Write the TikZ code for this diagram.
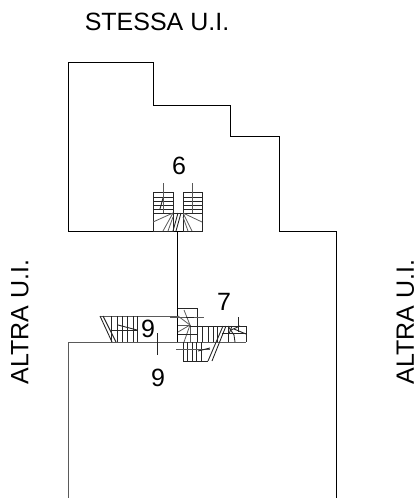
\documentclass[tikz,border=0pt]{standalone}
\usepackage{fontspec}
\setmainfont{Liberation Sans}
\definecolor{wallgrey}{RGB}{90, 90, 90}
\tikzset{
  label/.style={inner sep=0pt,font=\fontsize{25}{25}\selectfont},
  wall/.style={line width=0.9pt,black},
  wallsoft/.style={line width=0.9pt,wallgrey},
  tread/.style={line width=0.9pt,black!85},
  winder/.style={line width=0.8pt,black!65}
}
\begin{document}
\begin{tikzpicture}[x=1pt,y=-1pt]
            \useasboundingbox (0,0) rectangle (419,498);
            % upper and lower outline
            \draw[wall] (68,231) -- (68,62) -- (153,62) -- (153,105) -- (230,105) -- (230,136) -- (279,136) -- (279,231) -- (336,231) -- (336,498);
            \draw[wall] (68,231) -- (202,231);
            \draw[wall] (177.5,231) -- (177.5,342);
            \draw[wallsoft] (68,498) -- (68,342) -- (246,342);
            \draw[wallsoft] (100,316) -- (178,316);

            % stair 6
            \draw[tread] (153,192) rectangle (173,231);
            \draw[tread] (183,192) rectangle (202,231);
            \foreach \ya in {197,201,205,209,213}{
                \draw[tread] (153,\ya) -- (173,\ya);
                \draw[tread] (183,\ya) -- (202,\ya);
            }
            \draw[winder] (163,183) -- (163,213);
            \draw[winder] (192,183) -- (192,213);
            \draw[tread] (163,198) -- (160,209);
            \draw[winder] (173,213) -- (153,222);
            \draw[winder] (173,213) -- (163,231);
            \draw[winder] (173,217) -- (168,231);
            \draw[winder] (183,213) -- (202,222);
            \draw[winder] (183,213) -- (192,231);
            \draw[winder] (183,217) -- (188,231);
            \draw[tread] (173,213) -- (183,213);
            \draw[tread] (176,231) -- (181,213);
            \draw[tread] (173,231) -- (178,213);

            % stair 9
            \draw[tread] (100,316) -- (112,342);
            \draw[tread] (103,316) -- (116,342);
            \foreach \xa in {111,117,122,127,133,137}{
                \draw[tread] (\xa,316) -- (\xa,342);
            }
            \draw[tread] (111,330) -- (137,330);
            \draw[tread] (118,325) -- (137,330);
            \draw[tread] (157,333) -- (157,355);

            % stair 7
            \draw[tread] (177.5,308) -- (197,308) -- (197,342);
            \draw[winder] (170,317) -- (204,317);
            \foreach \xb/\yb in {178/316,184/310,178/325,178/332,184/342,190/342}{
                \draw[winder] (190,325) -- (\xb,\yb);
            }
            \draw[tread] (186,317) -- (194,317);
            \draw[tread] (190,326) -- (246,326);
            \draw[tread] (246,326) -- (246,342);
            \foreach \xc in {202,208,213,217}{
                \draw[tread] (\xc,326) -- (\xc,342);
            }
            \draw[tread] (178,334) -- (197,334);
            \draw[tread] (183,342) -- (183,361) -- (208,361);
            \foreach \xd in {187,192,196,201}{
                \draw[tread] (\xd,342) -- (\xd,361);
            }
            \draw[winder] (176,349) -- (210,349);
            \draw[tread] (198,351) -- (210,348);
            \draw[tread] (208,361) -- (223,326);
            \draw[tread] (212,361) -- (226,326);
            \draw[tread] (228,326) -- (228,342);
            \draw[tread] (238,317) -- (238,332);
            \draw[tread] (228,326) -- (234,335) -- (235,342);
            \draw[tread] (232,326) -- (229,334);
            \draw[tread] (222,333) -- (246,333);
            \draw[tread] (231,330) -- (240,326);
            \draw[tread] (234,329) -- (246,334);

            % labels
            \node[label] (samesame) at (157,21.5) {STESSA U.I.};
            \node[label,rotate=90] (otherleft) at (20,322) {ALTRA U.I.};
            \node[label,rotate=90] (otherright) at (405.5,322) {ALTRA U.I.};
            \node[label] (numsix) at (179,166) {6};
            \node[label] (numseven) at (224,302) {7};
            \node[label] (numnine) at (148,329) {9};
            \node[label] (numnineb) at (158,378) {9};
        \end{tikzpicture}
\end{document}
